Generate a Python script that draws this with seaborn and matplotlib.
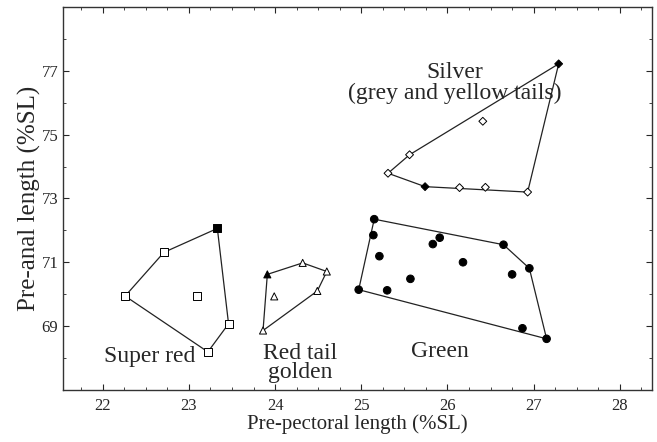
import matplotlib
matplotlib.use("Agg")
import matplotlib.pyplot as plt
from matplotlib.ticker import MultipleLocator, FixedLocator
import seaborn as sns
import pandas as pd

# values
super_red_x = [23.33, 22.71, 22.26, 23.09, 23.46, 23.22]
super_red_y = [72.06, 71.31, 69.94, 69.94, 69.07, 68.19]
super_red_filled = [True, False, False, False, False, False]

red_tail_x = [23.91, 24.32, 24.60, 24.49, 23.99, 23.86]
red_tail_y = [70.62, 70.98, 70.71, 70.10, 69.93, 68.86]
red_tail_filled = [True, False, False, False, False, False]

green_x = [25.15, 25.14, 25.21, 24.97, 25.30, 25.57, 25.83, 25.91, 26.18, 26.65, 26.75, 26.95, 26.87, 27.15]
green_y = [72.35, 71.85, 71.19, 70.14, 70.12, 70.48, 71.57, 71.77, 71.00, 71.55, 70.62, 70.81, 68.93, 68.60]
green_filled = [True] * 14

silver_x = [27.29, 26.41, 25.56, 25.31, 25.74, 26.14, 26.44, 26.93]
silver_y = [77.22, 75.42, 74.37, 73.79, 73.37, 73.34, 73.35, 73.20]
silver_filled = [True, False, False, False, True, False, False, False]

x_ticks = [22, 23, 24, 25, 26, 27, 28]
y_ticks = [69, 71, 73, 75, 77]


def hull(px, py):
    # monotone chain convex hull, returns closed outline
    pts = sorted(zip(px, py))

    def cross(o, a, b):
        return (a[0] - o[0]) * (b[1] - o[1]) - (a[1] - o[1]) * (b[0] - o[0])

    lower, upper = [], []
    for p in pts:
        while len(lower) >= 2 and cross(lower[-2], lower[-1], p) <= 0:
            lower.pop()
        lower.append(p)
    for p in reversed(pts):
        while len(upper) >= 2 and cross(upper[-2], upper[-1], p) <= 0:
            upper.pop()
        upper.append(p)
    h = lower[:-1] + upper[:-1]
    h.append(h[0])
    return [p[0] for p in h], [p[1] for p in h]


groups = [
    ("Super red", super_red_x, super_red_y, super_red_filled, "s", 34),
    ("Red tail golden", red_tail_x, red_tail_y, red_tail_filled, "^", 26),
    ("Green", green_x, green_y, green_filled, "o", 30),
    ("Silver", silver_x, silver_y, silver_filled, "D", 16),
]

sns.set_style("ticks")
plt.rcParams["font.family"] = ["Liberation Serif", "DejaVu Serif"]

fig = plt.figure(figsize=(6.57, 4.42), dpi=100)
ax = fig.add_axes([0.096, 0.118, 0.896, 0.866])

for name, gx, gy, gf, mk, sz in groups:
    hx, hy = hull(gx, gy)
    ax.plot(hx, hy, color="#222222", lw=0.9, zorder=1)
    df = pd.DataFrame({"x": gx, "y": gy, "filled": gf})
    sns.scatterplot(data=df, x="x", y="y", hue="filled",
                    palette={True: "black", False: "white"},
                    marker=mk, s=sz, edgecolor="black", linewidth=0.7,
                    legend=False, ax=ax, zorder=3)

ax.text(26.08, 76.62, "Silver\n(grey and yellow tails)", ha="center", va="center",
        fontsize=17, linespacing=0.95)
ax.text(22.55, 68.05, "Super red", ha="center", va="center", fontsize=17)
ax.text(24.29, 67.85, "Red tail\ngolden", ha="center", va="center", fontsize=17,
        linespacing=0.9)
ax.text(25.91, 68.2, "Green", ha="center", va="center", fontsize=17)

ax.set_xlim(21.54, 28.37)
ax.set_ylim(67, 79)
ax.xaxis.set_major_locator(FixedLocator(x_ticks))
ax.yaxis.set_major_locator(FixedLocator(y_ticks))
ax.xaxis.set_minor_locator(MultipleLocator(0.25))
ax.yaxis.set_minor_locator(MultipleLocator(1))
ax.tick_params(which="both", direction="in", top=True, right=True, labelsize=12)
ax.tick_params(which="major", length=4, width=0.8)
ax.tick_params(which="minor", length=2.5, width=0.6)
ax.tick_params(axis="x", which="major", pad=6)
for sp in ax.spines.values():
    sp.set_linewidth(1.0)
    sp.set_color("#333333")

ax.set_xlabel("Pre-pectoral length (%SL)", fontsize=15, labelpad=0)
ax.set_ylabel("Pre-anal length (%SL)", fontsize=18, labelpad=0)

fig.savefig("out.png", dpi=100)
